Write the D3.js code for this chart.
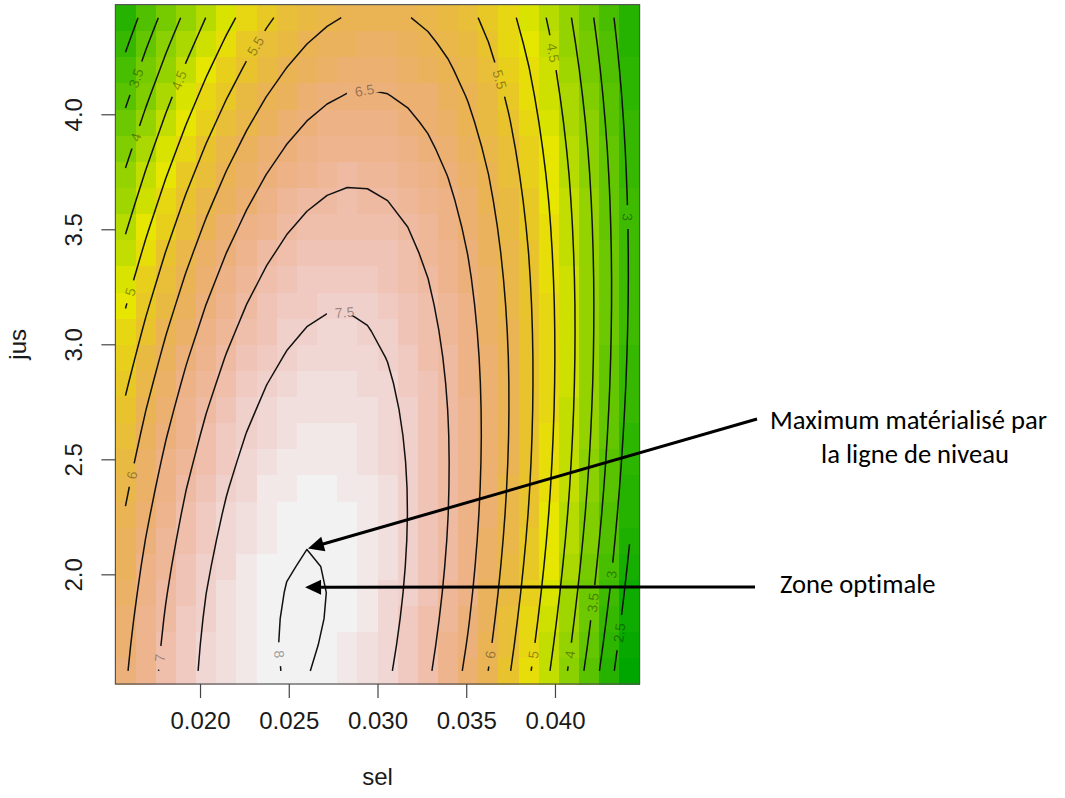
<!DOCTYPE html>
<html>
<head>
<meta charset="utf-8">
<script src="https://cdn.jsdelivr.net/npm/d3@7"></script>
<style>
  body { margin: 0; background: #fff; }
  svg { display: block; }
  .note text { font-variant-ligatures: none; }
</style>
</head>
<body>
<svg id="chart" width="1065" height="798"></svg>
<script>
// predicted response on a 26 x 26 grid: columns follow sel, rows follow jus
const selGrid = [0.0158, 0.016936, 0.018072, 0.019208, 0.020344, 0.02148, 0.022616, 0.023752, 0.024888,
  0.026024, 0.02716, 0.028296, 0.029432, 0.030568, 0.031704, 0.03284, 0.033976, 0.035112, 0.036248,
  0.037384, 0.03852, 0.039656, 0.040792, 0.041928, 0.043064, 0.0442];
const jusGrid = [1.58, 1.6936, 1.8072, 1.9208, 2.0344, 2.148, 2.2616, 2.3752, 2.4888, 2.6024, 2.716,
  2.8296, 2.9432, 3.0568, 3.1704, 3.284, 3.3976, 3.5112, 3.6248, 3.7384, 3.852, 3.9656, 4.0792,
  4.1928, 4.3064, 4.42];
const yieldGrid = [
  [6.456,6.805,7.109,7.370,7.586,7.758,7.887,7.971,8.012,8.008,7.960,7.869,7.733,7.553,7.330,7.062,6.750,6.395,5.995,5.551,5.064,4.532,3.956,3.337,2.673,1.965],
  [6.408,6.763,7.074,7.342,7.565,7.745,7.880,7.972,8.019,8.023,7.982,7.898,7.769,7.596,7.380,7.119,6.815,6.466,6.073,5.637,5.156,4.631,4.063,3.450,2.793,2.093],
  [6.350,6.712,7.031,7.305,7.536,7.722,7.865,7.963,8.018,8.028,7.995,7.917,7.796,7.630,7.421,7.167,6.870,6.528,6.143,5.713,5.239,4.722,4.160,3.555,2.905,2.212],
  [6.283,6.653,6.978,7.260,7.498,7.691,7.841,7.946,8.008,8.025,7.999,7.928,7.814,7.656,7.453,7.207,6.916,6.582,6.203,5.781,5.314,4.803,4.249,3.650,3.008,2.321],
  [6.208,6.585,6.917,7.206,7.450,7.651,7.808,7.920,7.989,8.013,7.994,7.931,7.823,7.672,7.476,7.237,6.953,6.626,6.255,5.839,5.380,4.876,4.329,3.737,3.102,2.422],
  [6.124,6.507,6.847,7.143,7.394,7.602,7.766,7.885,7.961,7.993,7.980,7.924,7.824,7.679,7.491,7.259,6.982,6.662,6.297,5.889,5.437,4.940,4.400,3.815,3.187,2.514],
  [6.031,6.421,6.768,7.071,7.330,7.544,7.715,7.842,7.925,7.963,7.958,7.909,7.815,7.678,7.497,7.271,7.002,6.689,6.331,5.930,5.485,4.995,4.462,3.885,3.263,2.598],
  [5.929,6.327,6.681,6.991,7.256,7.478,7.656,7.790,7.879,7.925,7.927,7.885,7.798,7.668,7.494,7.276,7.013,6.707,6.357,5.962,5.524,5.042,4.516,3.945,3.331,2.673],
  [5.819,6.224,6.585,6.901,7.174,7.403,7.588,7.729,7.826,7.878,7.887,7.852,7.773,7.650,7.482,7.271,7.016,6.717,6.373,5.986,5.555,5.080,4.560,3.997,3.390,2.739],
  [5.700,6.112,6.480,6.804,7.084,7.320,7.511,7.659,7.763,7.823,7.839,7.811,7.739,7.622,7.462,7.258,7.010,6.718,6.382,6.001,5.577,5.109,4.597,4.041,3.440,2.796],
  [5.573,5.992,6.367,6.698,6.984,7.227,7.426,7.581,7.692,7.759,7.782,7.761,7.696,7.587,7.434,7.237,6.995,6.710,6.381,6.008,5.591,5.130,4.625,4.075,3.482,2.845],
  [5.437,5.863,6.245,6.583,6.877,7.127,7.333,7.495,7.613,7.687,7.717,7.703,7.645,7.543,7.397,7.207,6.972,6.694,6.372,6.006,5.596,5.142,4.644,4.102,3.516,2.886],
  [5.293,5.726,6.115,6.460,6.761,7.018,7.231,7.400,7.525,7.606,7.643,7.636,7.585,7.490,7.351,7.168,6.941,6.670,6.355,5.996,5.593,5.146,4.655,4.120,3.541,2.918],
  [5.140,5.580,5.976,6.328,6.636,6.900,7.121,7.297,7.429,7.517,7.561,7.561,7.517,7.429,7.297,7.121,6.901,6.637,6.329,5.977,5.581,5.141,4.657,4.129,3.557,2.941],
  [4.979,5.426,5.829,6.188,6.504,6.775,7.002,7.185,7.324,7.419,7.470,7.478,7.441,7.360,7.235,7.066,6.853,6.596,6.295,5.950,5.561,5.129,4.652,4.131,3.566,2.957],
  [4.810,5.264,5.674,6.040,6.363,6.641,6.875,7.065,7.211,7.314,7.372,7.386,7.356,7.282,7.164,7.003,6.797,6.547,6.253,5.915,5.533,5.107,4.638,4.124,3.566,2.964],
  [4.632,5.093,5.511,5.884,6.213,6.499,6.740,6.937,7.090,7.200,7.265,7.286,7.263,7.196,7.086,6.931,6.732,6.489,6.203,5.872,5.497,5.078,4.615,4.108,3.558,2.963],
  [4.446,4.915,5.339,5.719,6.056,6.348,6.596,6.801,6.961,7.077,7.150,7.178,7.162,7.103,6.999,6.851,6.659,6.424,6.144,5.820,5.452,5.041,4.585,4.085,3.541,2.953],
  [4.253,4.728,5.159,5.547,5.890,6.190,6.445,6.656,6.824,6.947,7.026,7.062,7.053,7.000,6.904,6.763,6.578,6.350,6.077,5.760,5.400,4.995,4.546,4.053,3.517,2.936],
  [4.051,4.533,4.972,5.366,5.717,6.023,6.285,6.504,6.678,6.809,6.895,6.938,6.936,6.890,6.801,6.667,6.489,6.268,6.002,5.692,5.339,4.941,4.500,4.014,3.484,2.910],
  [3.841,4.330,4.776,5.177,5.535,5.848,6.118,6.343,6.525,6.662,6.756,6.805,6.811,6.772,6.690,6.563,6.392,6.178,5.919,5.617,5.270,4.879,4.445,3.966,3.444,2.877],
  [3.623,4.120,4.572,4.981,5.345,5.666,5.942,6.175,6.363,6.508,6.608,6.665,6.677,6.646,6.570,6.451,6.287,6.080,5.828,5.533,5.193,4.810,4.382,3.911,3.395,2.835],
  [3.397,3.901,4.361,4.776,5.148,5.475,5.759,5.999,6.194,6.346,6.453,6.517,6.536,6.512,6.443,6.331,6.175,5.974,5.730,5.441,5.109,4.732,4.312,3.847,3.339,2.786],
  [3.164,3.674,4.141,4.564,4.942,5.277,5.568,5.814,6.017,6.176,6.290,6.361,6.387,6.370,6.309,6.203,6.054,5.860,5.623,5.341,5.016,4.647,4.233,3.776,3.274,2.729],
  [2.922,3.440,3.914,4.343,4.729,5.071,5.369,5.622,5.832,5.998,6.119,6.197,6.231,6.220,6.166,6.068,5.925,5.739,5.508,5.234,4.916,4.553,4.147,3.697,3.202,2.664],
  [2.673,3.198,3.679,4.115,4.508,4.857,5.162,5.422,5.639,5.812,5.941,6.025,6.066,6.063,6.015,5.924,5.789,5.610,5.386,5.119,4.808,4.452,4.053,3.610,3.122,2.591]
];

const contourLevels = [2.5, 3, 3.5, 4, 4.5, 5, 5.5, 6, 6.5, 7, 7.5, 8];
const selTicks = [0.020, 0.025, 0.030, 0.035, 0.040];
const jusTicks = [2.0, 2.5, 3.0, 3.5, 4.0];

// where each contour label sits: [level, sel, jus]
const labelSpots = [
  [3.5, 0.01634, 4.158], [4, 0.01634, 3.901], [4.5, 0.01876, 4.149],
  [5.5, 0.02321, 4.293], [6.5, 0.02930, 4.088], [5.5, 0.03679, 4.149],
  [4.5, 0.03983, 4.267], [3, 0.04406, 3.553], [5, 0.01611, 3.227],
  [7.5, 0.02817, 3.114], [6, 0.01606, 2.433], [7, 0.01758, 1.638],
  [8, 0.02428, 1.651], [6, 0.03634, 1.651], [5, 0.03876, 1.651],
  [4, 0.04085, 1.651], [3.5, 0.04209, 1.877], [3, 0.04321, 1.999],
  [2.5, 0.04355, 1.747]
];

const svg = d3.select("#chart");
const plot = { left: 115.4, right: 639.6, top: 4.6, bottom: 684 };

const dS = selGrid[1] - selGrid[0];
const dJ = jusGrid[1] - jusGrid[0];
const x = d3.scaleLinear()
  .domain([selGrid[0] - dS / 2, selGrid[selGrid.length - 1] + dS / 2])
  .range([plot.left, plot.right]);
const y = d3.scaleLinear()
  .domain([jusGrid[0] - dJ / 2, jusGrid[jusGrid.length - 1] + dJ / 2])
  .range([plot.bottom, plot.top]);

// terrain palette (green -> yellow -> pale grey), 50 steps
function terrainColors(n) {
  const k = Math.floor(n / 2);
  const seq = (a, b, m) => d3.range(m).map(i => m === 1 ? a : a + (b - a) * i / (m - 1));
  const hsv = (h, s, v) => {
    const f = nn => { const kk = (nn + h * 6) % 6; return v - v * s * Math.max(0, Math.min(kk, 4 - kk, 1)); };
    return d3.rgb(Math.round(f(5) * 255), Math.round(f(3) * 255), Math.round(f(1) * 255));
  };
  const h1 = seq(4 / 12, 2 / 12, k), v1 = seq(0.65, 0.9, k);
  const m = n - k + 1;
  const h2 = seq(2 / 12, 0, m).slice(1), s2 = seq(1, 0, m).slice(1), v2 = seq(0.9, 0.95, m).slice(1);
  const out = [];
  for (let i = 0; i < k; i++) out.push(hsv(h1[i], 1, v1[i]));
  for (let i = 0; i < m - 1; i++) out.push(hsv(h2[i], s2[i], v2[i]));
  return out;
}
const flat = yieldGrid.flat();
const color = d3.scaleQuantize().domain(d3.extent(flat)).range(terrainColors(50));

// image cells
const cells = [];
jusGrid.forEach((j, r) => selGrid.forEach((s, c) => cells.push({ s, j, z: yieldGrid[r][c] })));
svg.append("g").attr("shape-rendering", "crispEdges")
  .selectAll("rect").data(cells).join("rect")
  .attr("x", d => x(d.s - dS / 2))
  .attr("y", d => y(d.j + dJ / 2))
  .attr("width", d => x(d.s + dS / 2) - x(d.s - dS / 2) + 0.5)
  .attr("height", d => y(d.j - dJ / 2) - y(d.j + dJ / 2) + 0.5)
  .attr("fill", d => color(d.z));

// marching squares over the grid -> polylines in data units
function contourLines(grid, xs, ys, level) {
  const ny = grid.length, nx = grid[0].length;
  const pts = new Map(), adj = new Map();
  const pt = (key, x0, y0, v0, x1, y1, v1) => {
    if (!pts.has(key)) { const t = (level - v0) / (v1 - v0); pts.set(key, [x0 + t * (x1 - x0), y0 + t * (y1 - y0)]); }
    return key;
  };
  const link = (a, b) => {
    if (!adj.has(a)) adj.set(a, []);
    if (!adj.has(b)) adj.set(b, []);
    adj.get(a).push(b); adj.get(b).push(a);
  };
  const up = v => v >= level;
  for (let r = 0; r < ny - 1; r++) {
    for (let c = 0; c < nx - 1; c++) {
      const v00 = grid[r][c], v01 = grid[r][c + 1], v11 = grid[r + 1][c + 1], v10 = grid[r + 1][c];
      const e = {};
      if (up(v00) !== up(v01)) e.b = pt(`h${r},${c}`, xs[c], ys[r], v00, xs[c + 1], ys[r], v01);
      if (up(v01) !== up(v11)) e.r = pt(`v${r},${c + 1}`, xs[c + 1], ys[r], v01, xs[c + 1], ys[r + 1], v11);
      if (up(v10) !== up(v11)) e.t = pt(`h${r + 1},${c}`, xs[c], ys[r + 1], v10, xs[c + 1], ys[r + 1], v11);
      if (up(v00) !== up(v10)) e.l = pt(`v${r},${c}`, xs[c], ys[r], v00, xs[c], ys[r + 1], v10);
      const keys = Object.keys(e);
      if (keys.length === 2) link(e[keys[0]], e[keys[1]]);
      else if (keys.length === 4) {
        const mid = (v00 + v01 + v11 + v10) / 4;
        if (up(mid) === up(v00)) { link(e.b, e.r); link(e.t, e.l); }
        else { link(e.b, e.l); link(e.r, e.t); }
      }
    }
  }
  const used = new Set(), lines = [];
  const walk = start => {
    const chain = [start]; used.add(start);
    let cur = start;
    for (;;) {
      const nxt = (adj.get(cur) || []).find(k => !used.has(k));
      if (nxt === undefined) break;
      used.add(nxt); chain.push(nxt); cur = nxt;
    }
    return chain.map(k => pts.get(k));
  };
  for (const [k, nb] of adj) if (nb.length === 1 && !used.has(k)) lines.push(walk(k));
  for (const [k] of adj) if (!used.has(k)) { const l = walk(k); l.push(l[0]); lines.push(l); }
  return lines;
}

const contours = contourLevels.map(level => ({
  level,
  lines: contourLines(yieldGrid, selGrid, jusGrid, level).map(l => l.map(([s, j]) => [x(s), y(j)]))
}));

// labels: snap each spot onto its contour and turn it along the line
const labels = labelSpots.map(([level, s, j]) => {
  const px = x(s), py = y(j);
  const cont = contours.find(c => c.level === level);
  let best = null;
  cont.lines.forEach(line => {
    for (let i = 0; i < line.length - 1; i++) {
      const [ax, ay] = line[i], [bx, by] = line[i + 1];
      const dx = bx - ax, dy = by - ay, L2 = dx * dx + dy * dy || 1;
      const t = Math.max(0, Math.min(1, ((px - ax) * dx + (py - ay) * dy) / L2));
      const qx = ax + t * dx, qy = ay + t * dy;
      const dist = (qx - px) ** 2 + (qy - py) ** 2;
      if (!best || dist < best.dist) best = { dist, qx, qy, dx, dy };
    }
  });
  let ang = Math.atan2(best.dy, best.dx) * 180 / Math.PI;
  if (ang > 90) ang -= 180;
  if (ang <= -90) ang += 180;
  return { cx: best.qx, cy: best.qy, ang, text: String(level) };
});

const defs = svg.append("defs");
const mask = defs.append("mask").attr("id", "labelGaps").attr("maskUnits", "userSpaceOnUse")
  .attr("x", 0).attr("y", 0).attr("width", 1065).attr("height", 798);
mask.append("rect").attr("width", 1065).attr("height", 798).attr("fill", "#fff");

const contourG = svg.append("g");
const labelG = svg.append("g")
  .attr("font-family", "Liberation Sans, Arial, Helvetica, sans-serif")
  .attr("font-size", 14)
  .attr("fill", "#000").attr("fill-opacity", 0.38);
labels.forEach(lb => {
  const t = labelG.append("text")
    .attr("transform", `translate(${lb.cx},${lb.cy}) rotate(${lb.ang})`)
    .attr("text-anchor", "middle").attr("dy", "0.36em")
    .text(lb.text);
  const w = t.node().getComputedTextLength();
  mask.append("rect")
    .attr("x", -(w / 2 + 8)).attr("y", -4).attr("width", w + 16).attr("height", 8)
    .attr("transform", `translate(${lb.cx},${lb.cy}) rotate(${lb.ang})`)
    .attr("fill", "#000");
});

contourG.attr("mask", "url(#labelGaps)")
  .attr("fill", "none").attr("stroke", "#111").attr("stroke-width", 1.5)
  .attr("stroke-linejoin", "round")
  .selectAll("path")
  .data(contours.flatMap(c => c.lines))
  .join("path")
  .attr("d", d3.line());

// frame
svg.append("rect")
  .attr("x", plot.left).attr("y", plot.top)
  .attr("width", plot.right - plot.left).attr("height", plot.bottom - plot.top)
  .attr("fill", "none").attr("stroke", "#555").attr("stroke-width", 1.2);

// axes
const axisFont = "Liberation Sans, Arial, Helvetica, sans-serif";
const gx = svg.append("g").attr("transform", `translate(0,${plot.bottom})`)
  .call(d3.axisBottom(x).tickValues(selTicks).tickFormat(d3.format(".3f")).tickSize(14).tickPadding(14));
gx.select(".domain").remove();
gx.selectAll("line").attr("stroke", "#444").attr("stroke-width", 1.2);
gx.selectAll("text").attr("font-family", axisFont).attr("font-size", 24).attr("fill", "#1a1a1a")
  .attr("dy", "0.71em");

const gy = svg.append("g").attr("transform", `translate(${plot.left},0)`)
  .call(d3.axisLeft(y).tickValues(jusTicks).tickFormat(d3.format(".1f")).tickSize(14));
gy.select(".domain").remove();
gy.selectAll("line").attr("stroke", "#444").attr("stroke-width", 1.2);
gy.selectAll("text").attr("font-family", axisFont).attr("font-size", 24).attr("fill", "#1a1a1a")
  .attr("x", null).attr("dy", null)
  .attr("text-anchor", "middle")
  .attr("transform", "translate(-33,0) rotate(-90)");

svg.append("text").attr("x", (plot.left + plot.right) / 2).attr("y", 785)
  .attr("text-anchor", "middle").attr("font-family", axisFont).attr("font-size", 24).attr("fill", "#1a1a1a")
  .text("sel");
svg.append("text").attr("transform", `translate(26,${(plot.top + plot.bottom) / 2}) rotate(-90)`)
  .attr("text-anchor", "middle").attr("font-family", axisFont).attr("font-size", 24).attr("fill", "#1a1a1a")
  .text("jus");

// annotations: tip of the level-8 contour and a spot inside the optimal zone
const peak = contours.find(c => c.level === 8).lines.flat().reduce((a, b) => (b[1] < a[1] ? b : a));
const zoneSpot = [0.02592, 1.944];
function arrow(x1, y1, x2, y2) {
  const a = Math.atan2(y2 - y1, x2 - x1);
  const len = 16, half = 7.5;
  const bx = x2 - len * Math.cos(a), by = y2 - len * Math.sin(a);
  svg.append("line").attr("x1", x1).attr("y1", y1)
    .attr("x2", bx + 2 * Math.cos(a)).attr("y2", by + 2 * Math.sin(a))
    .attr("stroke", "#000").attr("stroke-width", 3);
  svg.append("path")
    .attr("d", `M${x2},${y2}L${bx - half * Math.sin(a)},${by + half * Math.cos(a)}L${bx + half * Math.sin(a)},${by - half * Math.cos(a)}Z`)
    .attr("fill", "#000");
}
arrow(757, 419, peak[0] + 1, peak[1] - 1);
arrow(755, 587, x(zoneSpot[0]), y(zoneSpot[1]));

const note = svg.append("g").attr("class", "note")
  .attr("font-family", "Carlito, Calibri, Lato, 'Open Sans', sans-serif")
  .attr("fill", "#000").attr("font-size", 24);
const n1 = note.append("text").attr("x", 908.5).attr("y", 429).attr("text-anchor", "middle")
  .text("Maximum matérialisé par");
note.attr("font-size", 24 * 277 / n1.node().getComputedTextLength());
note.append("text").attr("x", 915).attr("y", 463).attr("text-anchor", "middle").text("la ligne de niveau");
note.append("text").attr("x", 780).attr("y", 593).attr("text-anchor", "start").text("Zone optimale");
</script>
</body>
</html>
